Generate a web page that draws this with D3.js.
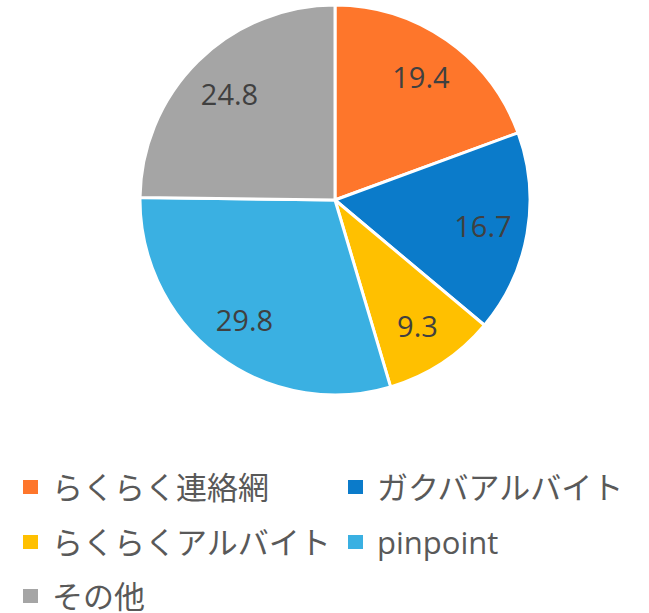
<!DOCTYPE html>
<html lang="ja">
<head>
<meta charset="UTF-8">
<script src="https://cdnjs.cloudflare.com/ajax/libs/d3/7.8.5/d3.min.js"></script>
<style>
    body { margin: 0; background: #fff; }
    svg { display: block; }
    text { font-family: "Open Sans", "Noto Sans CJK JP", sans-serif; fill: #595959; }
    text.val { fill: #404040; font-size: 29px; text-anchor: middle; dominant-baseline: central; }
    text.leg { font-size: 31px; dominant-baseline: central; }
</style>
</head>
<body>
<svg width="649" height="613"></svg>
<script>
const names = ["らくらく連絡網", "ガクバアルバイト", "らくらくアルバイト", "pinpoint", "その他"];
const shares = [19.4, 16.7, 9.3, 29.8, 24.8];
const colors = ["#FE762B", "#0B7BCA", "#FFC000", "#3AB0E2", "#A5A5A5"];

const svg = d3.select("svg");
const cx = 335, cy = 200, r = 195;

const pie = d3.pie().sort(null).value(d => d);
const arc = d3.arc().innerRadius(0).outerRadius(r);
const labelArc = d3.arc().innerRadius(r * 0.77).outerRadius(r * 0.77);

const g = svg.append("g").attr("transform", `translate(${cx},${cy})`);
const slices = pie(shares);

g.selectAll("path")
    .data(slices)
    .enter()
    .append("path")
    .attr("d", arc)
    .attr("fill", (d, i) => colors[i])
    .attr("stroke", "#fff")
    .attr("stroke-width", 3)
    .attr("stroke-linejoin", "round");

g.selectAll("text.val")
    .data(slices)
    .enter()
    .append("text")
    .attr("class", "val")
    .attr("transform", d => `translate(${labelArc.centroid(d)})`)
    .text(d => d.data.toFixed(1));

// legend, two columns
const colX = [23, 348];
const rowY = [487, 542, 596];
const leg = svg.selectAll("g.legend")
    .data(names)
    .enter()
    .append("g")
    .attr("class", "legend")
    .attr("transform", (d, i) => `translate(${colX[i % 2]},${rowY[Math.floor(i / 2)]})`);

leg.append("rect")
    .attr("x", 0).attr("y", -7)
    .attr("width", 15).attr("height", 14)
    .attr("fill", (d, i) => colors[i]);

leg.append("text")
    .attr("class", "leg")
    .attr("x", 29)
    .attr("y", 0)
    .text(d => d);
</script>
</body>
</html>
